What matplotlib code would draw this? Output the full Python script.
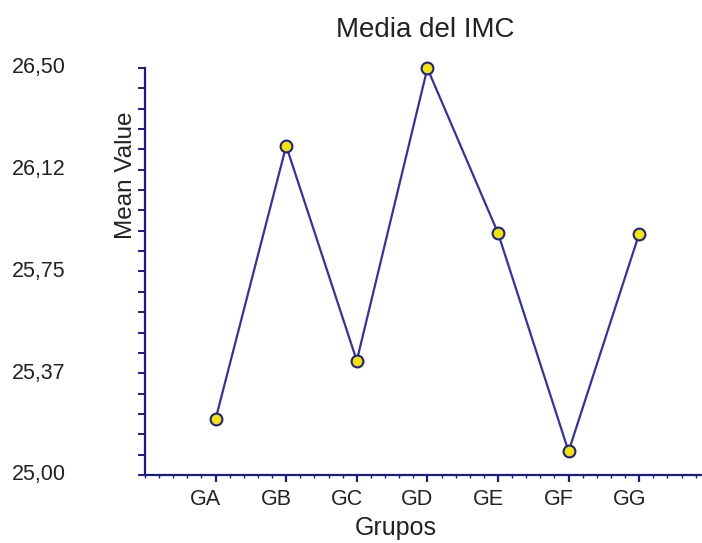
import matplotlib
matplotlib.use("Agg")
import matplotlib.pyplot as plt
from matplotlib.ticker import MultipleLocator, FixedLocator, FuncFormatter
import matplotlib.transforms as mtransforms

plt.rcParams['font.family'] = ['Liberation Sans', 'DejaVu Sans']

groups = ["GA", "GB", "GC", "GD", "GE", "GF", "GG"]
mean_bmi = [25.206, 26.213, 25.421, 26.499, 25.892, 25.087, 25.889]
y_tick_values = [25.0, 25.375, 25.75, 26.125, 26.5]
y_tick_labels = ["25,00", "25,37", "25,75", "26,12", "26,50"]

W, H = 702, 543
fig = plt.figure(figsize=(W / 100, H / 100), dpi=100)
left, right, bottom, top = 145, 702, 475, 68
ax = fig.add_axes([left / W, 1 - bottom / H, (right - left) / W, (bottom - top) / H])

axis_col = "#1c1c86"
line_col = "#3232a4"
text_col = "#222222"

x = list(range(1, len(groups) + 1))
ax.plot(x, mean_bmi, color=line_col, lw=1.6, marker="o", ms=8.5,
        mfc="#f2e600", mec="#20208c", mew=1.5, zorder=3, clip_on=False)

ax.set_xlim(0, 7.89)
ax.set_ylim(25.0, 26.5)

for s in ("top", "right"):
    ax.spines[s].set_visible(False)
for s in ("left", "bottom"):
    ax.spines[s].set_color(axis_col)
    ax.spines[s].set_linewidth(1.6)

# x axis: group ticks plus minor subdivisions
ax.set_xticks(x)
ax.set_xticklabels(groups)
ax.xaxis.set_minor_locator(MultipleLocator(0.2))
ax.tick_params(axis="x", which="major", length=5, width=1.6, color=axis_col,
               labelsize=15.5, labelcolor=text_col, pad=5)
ax.tick_params(axis="x", which="minor", length=2, width=1.0, color=axis_col)
offset = mtransforms.ScaledTranslation(-10 / 100, 0, fig.dpi_scale_trans)
for lbl in ax.get_xticklabels():
    lbl.set_transform(lbl.get_transform() + offset)

# y axis: a tick every 0.075, labelled every fifth one
y_all = [25.0 + 0.075 * i for i in range(21)]
label_map = {round(v, 3): t for v, t in zip(y_tick_values, y_tick_labels)}
ax.yaxis.set_major_locator(FixedLocator(y_all))
ax.yaxis.set_major_formatter(FuncFormatter(lambda v, p: label_map.get(round(v, 3), "")))
ax.tick_params(axis="y", which="major", length=5, width=1.4, color=axis_col,
               direction="out", labelsize=15.5, labelcolor=text_col, pad=52)
for lbl in ax.get_yticklabels():
    lbl.set_verticalalignment("center")

ax.set_ylabel("Mean Value", fontsize=17.5, color=text_col)
ax.yaxis.set_label_coords(-0.014, 0.737)
ax.set_xlabel("Grupos", fontsize=18, color=text_col)
ax.xaxis.set_label_coords(0.45, -0.1)
ax.set_title("Media del IMC", fontsize=20, color=text_col, pad=22, x=0.503)

fig.savefig("out.png", dpi=100)
